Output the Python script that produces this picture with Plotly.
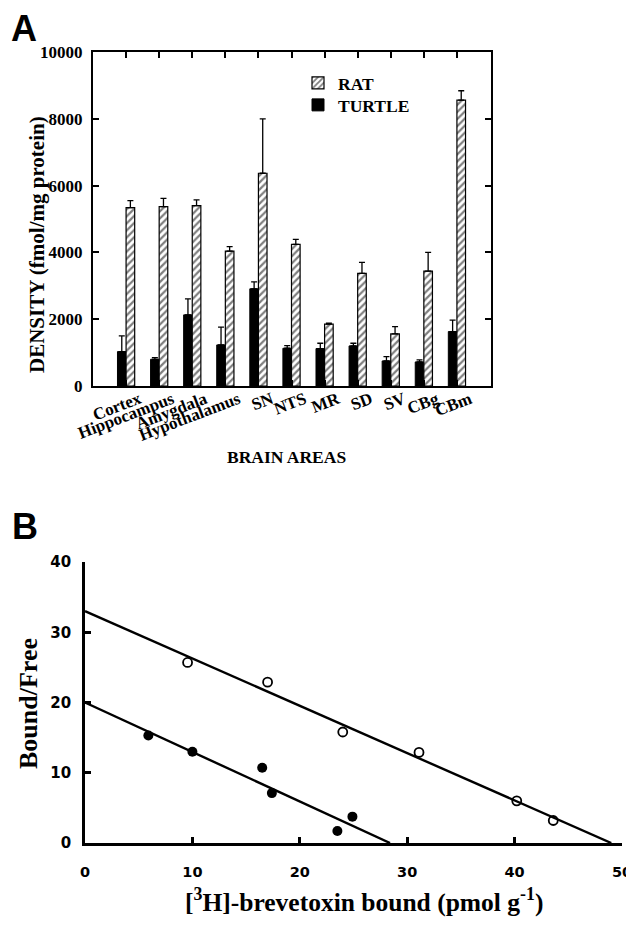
import plotly.graph_objects as go

# ---------------- Panel A data ----------------
areas = ["Cortex", "Hippocampus", "Amygdala", "Hypothalamus", "SN", "NTS",
         "MR", "SD", "SV", "CBg", "CBm"]
turtle_density = [1030, 800, 2130, 1230, 2910, 1130, 1120, 1200, 750, 720, 1630]
turtle_err = [470, 50, 480, 530, 210, 80, 160, 80, 130, 60, 340]
rat_density = [5340, 5370, 5400, 4040, 6370, 4240, 1850, 3370, 1560, 3440, 8560]
rat_err = [210, 250, 170, 130, 1630, 150, 30, 330, 220, 560, 280]
density_ticks = [0, 2000, 4000, 6000, 8000, 10000]

# ---------------- Panel B data ----------------
rat_bound = [9.55, 17.0, 24.0, 31.1, 40.2, 43.6]
rat_bf = [25.7, 22.9, 15.8, 12.9, 6.0, 3.2]
turtle_bound = [5.9, 10.0, 16.5, 17.4, 23.5, 24.9]
turtle_bf = [15.3, 13.0, 10.7, 7.1, 1.7, 3.75]
rat_fit_x = [0, 49.0]
rat_fit_y = [33.0, 0]
turtle_fit_x = [0, 28.4]
turtle_fit_y = [20.0, 0]
bound_ticks = [0, 10, 20, 30, 40, 50]
bf_ticks = [0, 10, 20, 30, 40]

SERIF = dict(family="Liberation Serif", color="black", weight="bold")
SANS = dict(family="DejaVu Sans", color="black", weight="bold")
LABEL = dict(family="Liberation Sans", color="black", weight="bold")

# page is offset by the body margin (8 px); map page pixels to paper coords
OFF = 8
W, H = 634 - OFF, 925 - OFF


def px(x):
    return (x - OFF) / W


def py(y):
    return 1 - (y - OFF) / H


fig = go.Figure()

fig.add_trace(go.Bar(
    x=areas, y=turtle_density, name="TURTLE", legend="legend2",
    marker=dict(color="black", line=dict(color="black", width=1)),
    error_y=dict(type="data", array=turtle_err, arrayminus=[0] * len(areas),
                 symmetric=False, color="black", thickness=1.3, width=3),
    xaxis="x", yaxis="y",
))
fig.add_trace(go.Bar(
    x=areas, y=rat_density, name="RAT", legend="legend",
    marker=dict(color="white", line=dict(color="black", width=1.2),
                pattern=dict(shape="/", fgcolor="black", bgcolor="white",
                             size=5, solidity=0.45)),
    error_y=dict(type="data", array=rat_err, arrayminus=[0] * len(areas),
                 symmetric=False, color="black", thickness=1.3, width=3),
    xaxis="x", yaxis="y",
))

# Panel B
fig.add_trace(go.Scatter(
    x=rat_fit_x, y=rat_fit_y, mode="lines", line=dict(color="black", width=2.4),
    showlegend=False, xaxis="x2", yaxis="y2"))
fig.add_trace(go.Scatter(
    x=turtle_fit_x, y=turtle_fit_y, mode="lines", line=dict(color="black", width=2.4),
    showlegend=False, xaxis="x2", yaxis="y2"))
fig.add_trace(go.Scatter(
    x=rat_bound, y=rat_bf, mode="markers",
    marker=dict(symbol="circle-open", size=9, color="black", line=dict(width=1.8)),
    showlegend=False, xaxis="x2", yaxis="y2"))
fig.add_trace(go.Scatter(
    x=turtle_bound, y=turtle_bf, mode="markers",
    marker=dict(symbol="circle", size=10, color="black"),
    showlegend=False, xaxis="x2", yaxis="y2"))

legend_common = dict(xanchor="left", yanchor="middle",
                     font=dict(size=17.5, **SERIF),
                     bgcolor="rgba(0,0,0,0)", itemwidth=30)

fig.update_layout(
    width=W, height=H,
    margin=dict(l=0, r=0, t=0, b=0),
    paper_bgcolor="white", plot_bgcolor="white",
    barmode="group", bargap=0.48, bargroupgap=0,
    showlegend=True,
    legend=dict(x=px(298), y=py(83), **legend_common),
    legend2=dict(x=px(298), y=py(105), **legend_common),
    xaxis=dict(domain=[px(93), px(491)], anchor="y",
               range=[-1, 11.03], tickangle=-21,
               tickfont=dict(size=17, **SERIF),
               ticklabelshift=13, ticklabelstandoff=-5,
               ticks="inside", ticklen=6, tickwidth=1.5, tickcolor="black",
               showline=True, linecolor="black", linewidth=2, mirror="ticks",
               automargin=False),
    yaxis=dict(domain=[py(386), py(52)], anchor="x",
               range=[0, 10000], tickvals=density_ticks, tickformat="d",
               tickfont=dict(size=17, **SERIF), ticklabelstandoff=5,
               ticks="inside", ticklen=6, tickwidth=1.5, tickcolor="black",
               showline=True, linecolor="black", linewidth=2, mirror="ticks",
               showgrid=False, zeroline=False,
               automargin=False),
    xaxis2=dict(domain=[px(85), px(622)], anchor="y2",
                range=[0, 50], tickvals=bound_ticks,
                tickfont=dict(size=14.5, **SANS), ticklabelstandoff=14,
                ticklabeloverflow="allow",
                ticks="inside", ticklen=6, tickwidth=2.5, tickcolor="black",
                showline=True, linecolor="black", linewidth=2.8,
                showgrid=False, zeroline=False,
                automargin=False),
    yaxis2=dict(domain=[py(843), py(562)], anchor="x2",
                range=[0, 40], tickvals=bf_ticks,
                tickfont=dict(size=15, **SANS), ticklabelstandoff=8,
                ticks="inside", ticklen=6, tickwidth=2.5, tickcolor="black",
                showline=True, linecolor="black", linewidth=2.8,
                showgrid=False, zeroline=False,
                automargin=False),
    annotations=[
        dict(text="A", x=px(23.5), y=py(28.5), xref="paper", yref="paper",
             xanchor="center", yanchor="middle", showarrow=False,
             font=dict(size=36, **LABEL)),
        dict(text="B", x=px(24.5), y=py(526.5), xref="paper", yref="paper",
             xanchor="center", yanchor="middle", showarrow=False,
             font=dict(size=36, **LABEL)),
        dict(text="DENSITY (fmol/mg protein)", textangle=-90,
             x=px(37), y=py(245), xref="paper", yref="paper",
             xanchor="center", yanchor="middle", showarrow=False,
             font=dict(size=21, **SERIF)),
        dict(text="BRAIN AREAS", x=px(286), y=py(457), xref="paper", yref="paper",
             xanchor="center", yanchor="middle", showarrow=False,
             font=dict(size=17.5, **SERIF)),
        dict(text="Bound/Free", textangle=-90,
             x=px(28), y=py(704), xref="paper", yref="paper",
             xanchor="center", yanchor="middle", showarrow=False,
             font=dict(size=26, **SERIF)),
        dict(text="[<sup>3</sup>H]-brevetoxin bound (pmol g<sup>-1</sup>)",
             x=px(364), y=py(900), xref="paper", yref="paper",
             xanchor="center", yanchor="middle", showarrow=False,
             font=dict(size=25.5, **SERIF)),
    ],
)

fig.write_html("out.html")
